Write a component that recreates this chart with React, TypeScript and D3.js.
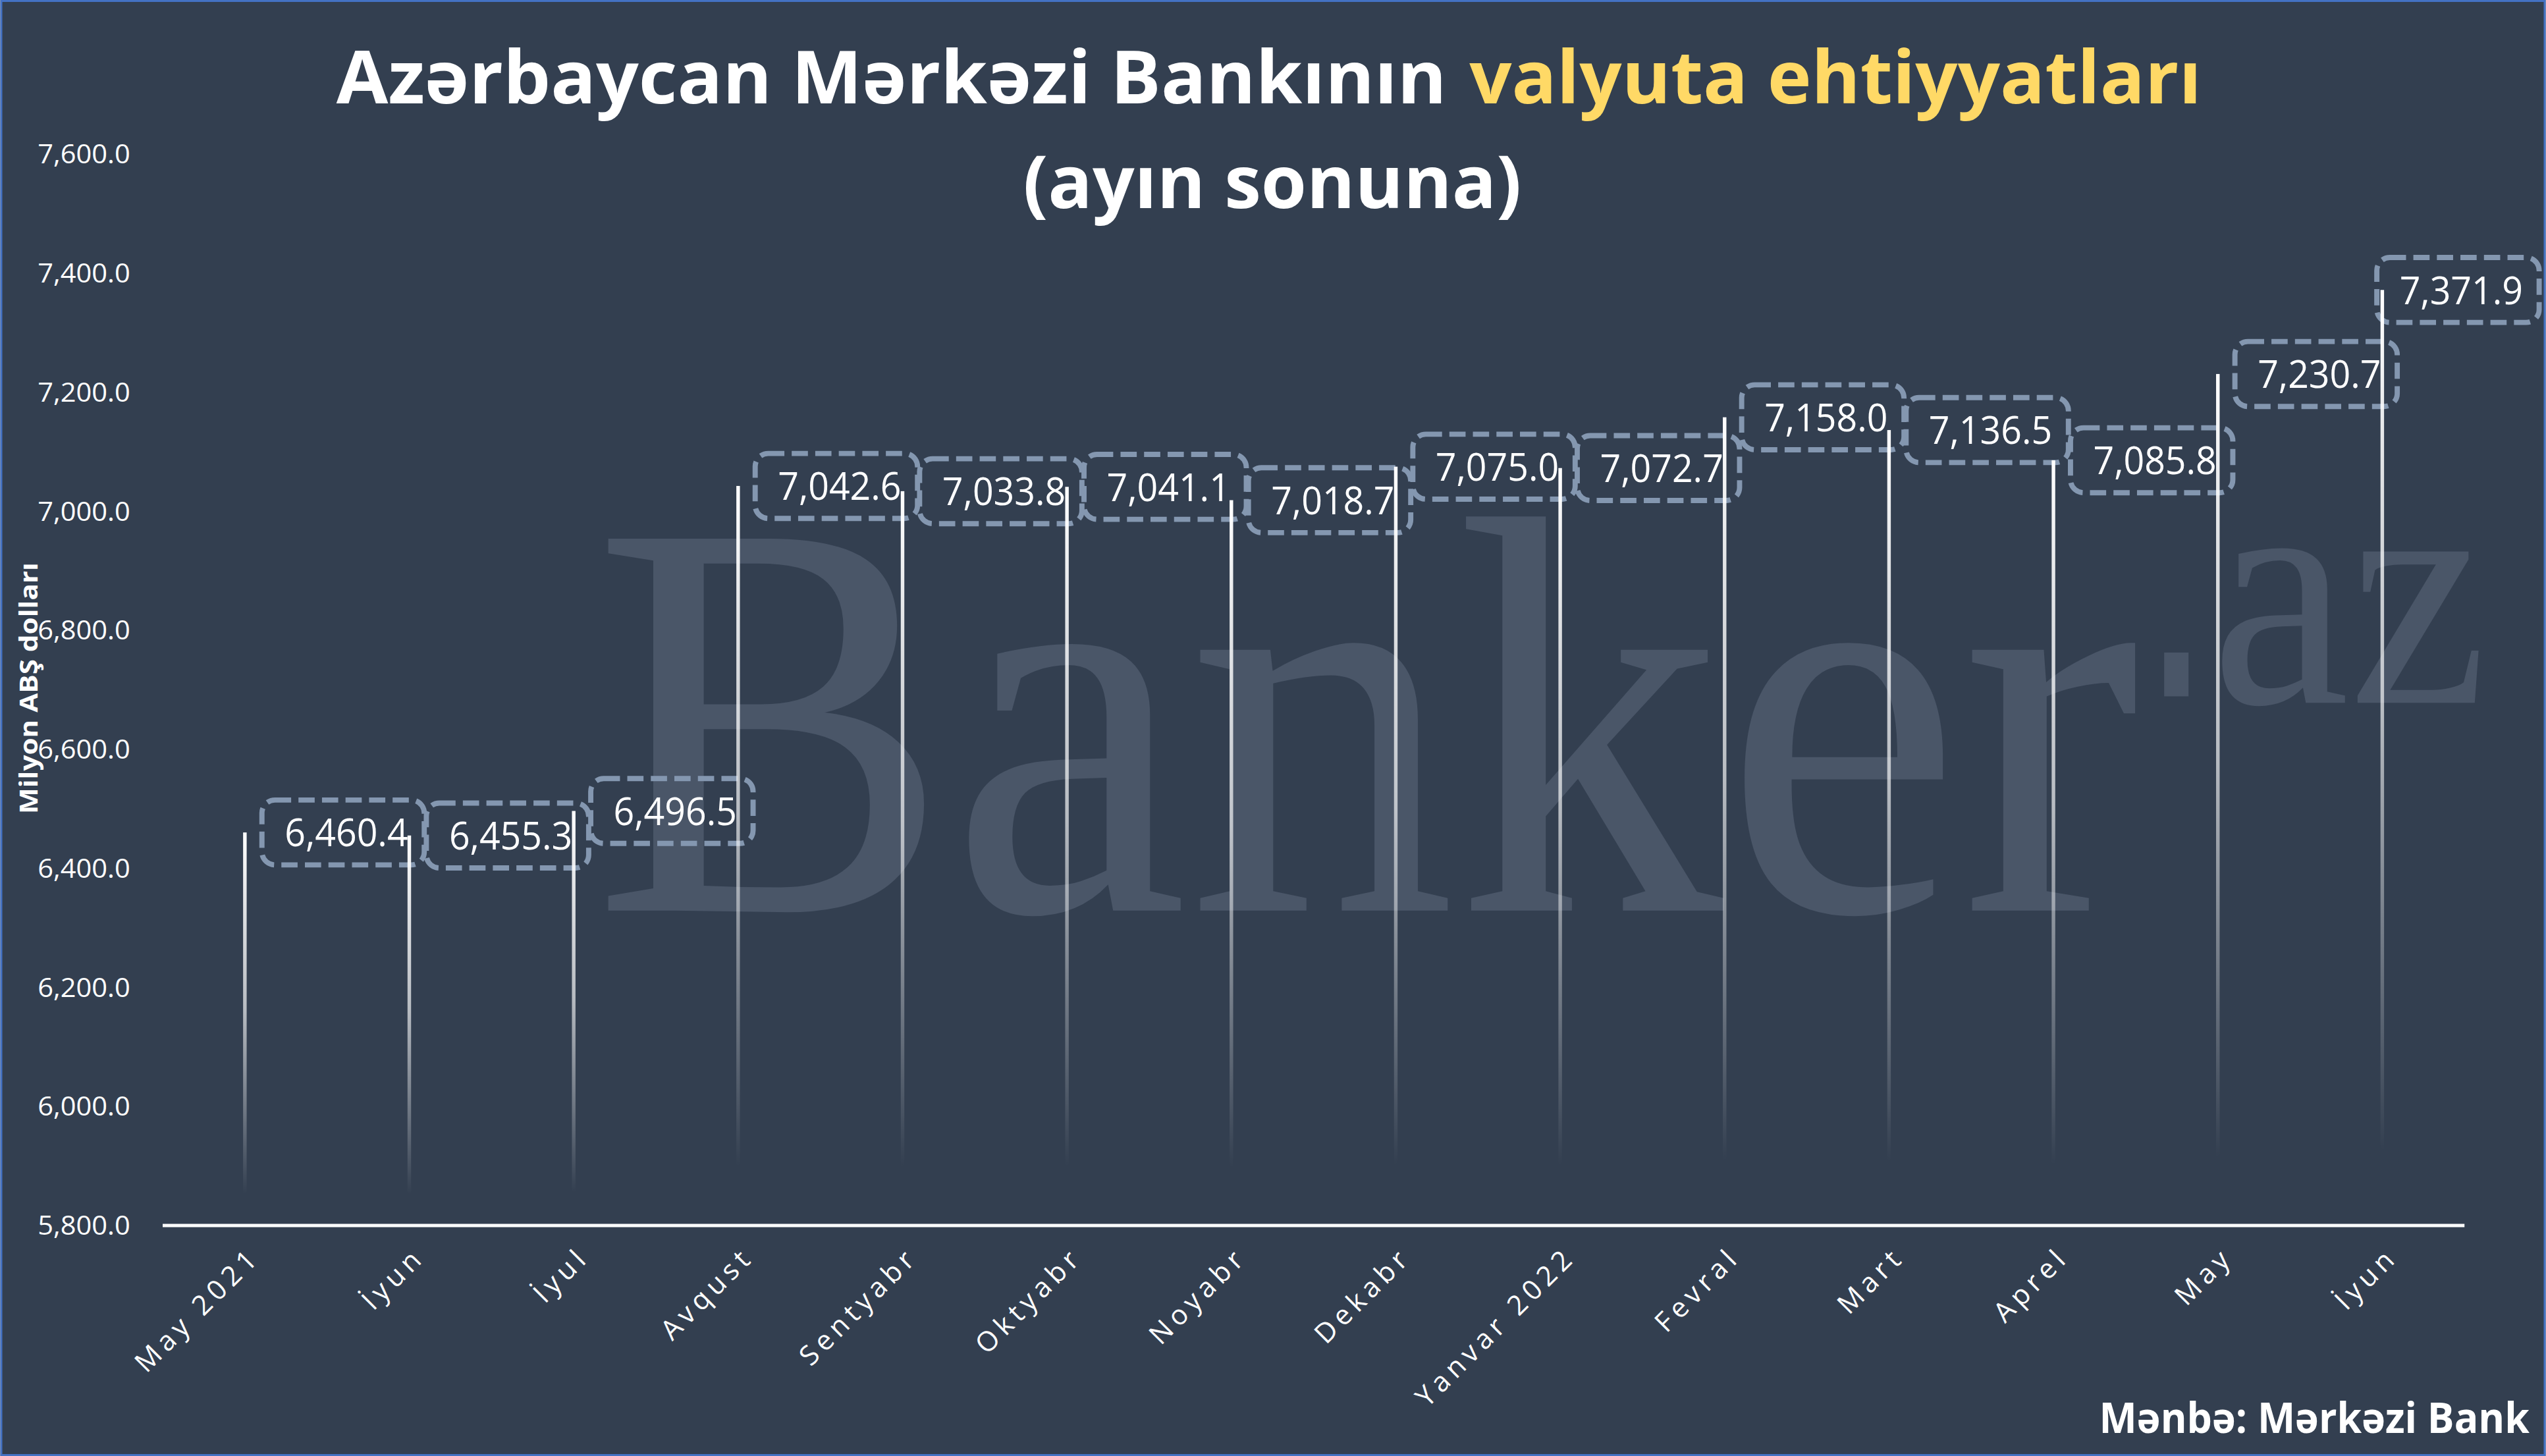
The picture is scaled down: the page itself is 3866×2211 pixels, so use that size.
import React from 'react';
import * as d3 from 'd3';

// Month-end reserves, million USD
const categories = [
  'May 2021', 'İyun', 'İyul', 'Avqust', 'Sentyabr', 'Oktyabr', 'Noyabr',
  'Dekabr', 'Yanvar  2022', 'Fevral', 'Mart', 'Aprel', 'May', 'İyun',
];
const reserves = [
  6460.4, 6455.3, 6496.5, 7042.6, 7033.8, 7041.1, 7018.7,
  7075.0, 7072.7, 7158.0, 7136.5, 7085.8, 7230.7, 7371.9,
];
const yTicks = [5800, 6000, 6200, 6400, 6600, 6800, 7000, 7200, 7400, 7600];

const titleWhite = 'Azərbaycan Mərkəzi Bankının';
const titleYellow = 'valyuta ehtiyyatları';
const subtitle = '(ayın sonuna)';
const yTitle = 'Milyon ABŞ dolları';
const source = 'Mənbə: Mərkəzi Bank';

const W = 1568;
const H = 897;
const BG = '#333f50';
const BOX = '#8497b0';
const FONT = "'Open Sans', 'Noto Sans', sans-serif";

export default function App() {
  const x = d3.scaleBand<number>()
    .domain(d3.range(categories.length))
    .range([100, 1518])
    .padding(0);
  const y = d3.scaleLinear().domain([5800, 7600]).range([755, 95]);
  const fmt = d3.format(',.1f');
  const cx = (i: number) => (x(i) ?? 0) + x.bandwidth() / 2;

  const boxW = 100;
  const boxH = 40;
  const boxX = (i: number) => Math.min(cx(i) + 10.5, 1564 - boxW);

  return (
    <svg
      width={3866}
      height={2211}
      viewBox={`0 0 ${W} ${H}`}
      style={{ position: 'absolute', left: 0, top: 0, display: 'block' }}
    >
      <defs>
        <linearGradient id="stem" x1="0" y1="0" x2="0" y2="1">
          <stop offset="0" stopColor="#ffffff" stopOpacity={1} />
          <stop offset="0.45" stopColor="#ffffff" stopOpacity={0.65} />
          <stop offset="0.92" stopColor="#ffffff" stopOpacity={0} />
        </linearGradient>
      </defs>

      <rect x={0} y={0} width={W} height={H} fill={BG} />

      {/* watermark */}
      <g fill="#4a5668" fontFamily="'Liberation Serif', 'DejaVu Serif', serif">
        <text x={365} y={561} fontSize={350} textLength={953} lengthAdjust="spacingAndGlyphs">
          Banker
        </text>
        <rect x={1333} y={402} width={15} height={27} />
        <text x={1362} y={433} fontSize={203} textLength={170} lengthAdjust="spacingAndGlyphs">
          az
        </text>
      </g>

      {/* title */}
      <g fontFamily={FONT} fontWeight={700} fontSize={45}>
        <text x={207} y={63.5} fill="#ffffff" textLength={684} lengthAdjust="spacingAndGlyphs">
          {titleWhite}
        </text>
        <text x={905} y={63.5} fill="#ffd966" textLength={451} lengthAdjust="spacingAndGlyphs">
          {titleYellow}
        </text>
        <text x={630} y={128} fill="#ffffff" textLength={307} lengthAdjust="spacingAndGlyphs">
          {subtitle}
        </text>
      </g>

      {/* y axis labels */}
      <g fontFamily={FONT} fontSize={16} fill="#ffffff">
        {yTicks.map((t) => (
          <text
            key={t}
            x={80}
            y={y(t)}
            dy="0.36em"
            textAnchor="end"
            textLength={57}
            lengthAdjust="spacingAndGlyphs"
          >
            {fmt(t)}
          </text>
        ))}
      </g>
      <text
        transform={`translate(23, 424) rotate(-90)`}
        textAnchor="middle"
        fontFamily={FONT}
        fontWeight={700}
        fontSize={15}
        fill="#ffffff"
        textLength={155}
        lengthAdjust="spacingAndGlyphs"
      >
        {yTitle}
      </text>

      {/* label boxes */}
      <g fill="none" stroke={BOX} strokeWidth={3.2} strokeDasharray="10 4.5">
        {reserves.map((v, i) => (
          <rect key={i} x={boxX(i)} y={y(v) - boxH / 2} width={boxW} height={boxH} rx={8} ry={8} />
        ))}
      </g>

      {/* stems */}
      {reserves.map((v, i) => (
        <rect
          key={i}
          x={cx(i) - 1.1}
          y={y(v)}
          width={2.2}
          height={y(5800) - y(v)}
          fill="url(#stem)"
        />
      ))}

      {/* value labels */}
      <g fontFamily={FONT} fontSize={24} fill="#ffffff">
        {reserves.map((v, i) => (
          <text
            key={i}
            x={boxX(i) + boxW / 2 + 2}
            y={y(v)}
            dy="0.36em"
            textAnchor="middle"
            textLength={76}
            lengthAdjust="spacingAndGlyphs"
          >
            {fmt(v)}
          </text>
        ))}
      </g>

      {/* x axis */}
      <line x1={100} x2={1518} y1={y(5800)} y2={y(5800)} stroke="#ffffff" strokeWidth={2} />
      <g fontFamily={FONT} fontSize={17} fill="#ffffff" letterSpacing={3}>
        {categories.map((c, i) => (
          <text
            key={i}
            transform={`translate(${cx(i) + 2}, 767) rotate(-45)`}
            textAnchor="end"
            dy="0.7em"
          >
            {c}
          </text>
        ))}
      </g>

      <text
        x={1293}
        y={883}
        fontFamily={FONT}
        fontWeight={700}
        fontSize={26}
        fill="#ffffff"
        textLength={265}
        lengthAdjust="spacingAndGlyphs"
      >
        {source}
      </text>

      <rect x={0.6} y={0.6} width={W - 1.2} height={H - 1.2} fill="none" stroke="#4472c4" strokeWidth={1.2} />
    </svg>
  );
}
